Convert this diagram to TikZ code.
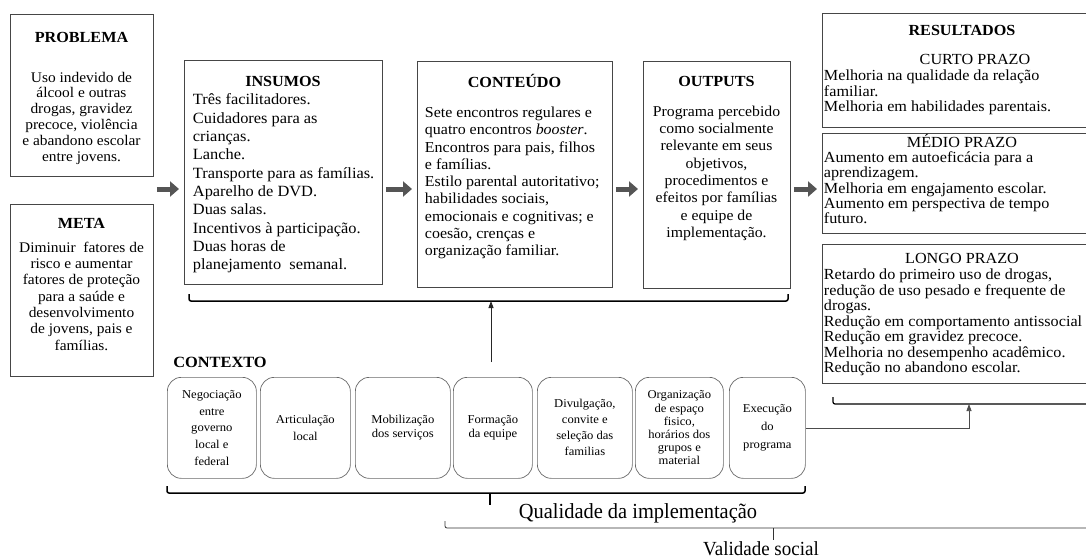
\documentclass[tikz,border=0pt]{standalone}
\usepackage{fontspec}
\setmainfont{Liberation Serif}[FakeStretch=1.05]
\newfontfamily\labelfont{Liberation Serif}[FakeStretch=0.95]
\usetikzlibrary{arrows.meta}

\definecolor{boxgray}{RGB}{70,70,70}
\definecolor{ctxgray}{RGB}{105,105,105}
\definecolor{arrowgray}{RGB}{85,85,85}

\begin{document}
\begin{tikzpicture}[x=1pt,y=1pt,yscale=-1,xscale=1,
  box/.style={draw=boxgray, line width=0.8pt, anchor=north west, inner sep=0pt},
  ctxbox/.style={draw=ctxgray, line width=0.7pt, rounded corners=14pt, anchor=north west, inner sep=0pt, align=center},
  title/.style={font=\bfseries\fontsize{15.4}{17}\selectfont, inner sep=0.75pt, anchor=base},
  prazo/.style={font=\fontsize{15.4}{17}\selectfont, inner sep=0.75pt, anchor=base},
  body/.style={inner sep=0.75pt, anchor=north},
  fatarrow/.style={draw=arrowgray, line width=5pt, -{Triangle[length=9pt,width=15pt]}, shorten <=3pt, shorten >=5pt},
  bracket/.style={line width=1.5pt, rounded corners=2pt},
  thinarrow/.style={draw=black!85, line width=0.9pt, -{Triangle[length=7pt,width=5pt]}}
]
\path[use as bounding box, fill=white] (0,0) rectangle (1086,559);

%Shape: Rectangle [PROBLEMA]
\node[box, minimum width=143, minimum height=162] (problema) at (10,14) {};
%Shape: Rectangle [META]
\node[box, minimum width=143, minimum height=172] (meta) at (10,204) {};
%Shape: Rectangle [INSUMOS]
\node[box, minimum width=198, minimum height=224] (insumos) at (184,60) {};
%Shape: Rectangle [CONTEUDO]
\node[box, minimum width=195, minimum height=226] (conteudo) at (417,61) {};
%Shape: Rectangle [OUTPUTS]
\node[box, minimum width=147, minimum height=227] (outputs) at (643,61) {};
%Shape: Rectangle [CURTO PRAZO]
\node[box, minimum width=275, minimum height=114] (curto) at (822,13) {};
%Shape: Rectangle [MEDIO PRAZO]
\node[box, minimum width=275, minimum height=100] (medio) at (822,133) {};
%Shape: Rectangle [LONGO PRAZO]
\node[box, minimum width=275, minimum height=139] (longo) at (822,244) {};

% Text Node
\node[title] (problematitle) at (81.5,43) {PROBLEMA};
% Text Node
\node[body, align=center, font=\fontsize{14.7}{15.8}\selectfont] (problematext) at (81.5,71) {Uso indevido de\\álcool e outras\\drogas, gravidez\\precoce, violência\\e abandono escolar\\entre jovens.};
% Text Node
\node[title] (metatitle) at (81.5,228) {META};
% Text Node
\node[body, align=center, font=\fontsize{14.7}{16.3}\selectfont] (metatext) at (81.5,241) {Diminuir\ \ fatores de\\risco e aumentar\\fatores de proteção\\para a saúde e\\desenvolvimento\\de jovens, pais e\\famílias.};
% Text Node
\node[title] (insumostitle) at (283,87) {INSUMOS};
% Text Node
\node[body, anchor=north west, align=left, font=\fontsize{15.6}{18.3}\selectfont] (insumostext) at (192,93) {Três facilitadores.\\Cuidadores para as\\crianças.\\Lanche.\\Transporte para as famílias.\\Aparelho de DVD.\\Duas salas.\\Incentivos à participação.\\Duas horas de\\planejamento\ \ semanal.};
% Text Node
\node[title] (conteudotitle) at (514.5,88) {CONTEÚDO};
% Text Node
\node[body, anchor=north west, align=left, font=\fontsize{15.2}{17.3}\selectfont] (conteudotext) at (424,106) {Sete encontros regulares\ e\\quatro encontros \textit{booster}.\\Encontros para pais, filhos\\e famílias.\\Estilo parental autoritativo;\\habilidades\ sociais,\\emocionais e cognitivas; e\\coesão, crenças e\\organização\ familiar.};
% Text Node
\node[title] (outputstitle) at (716.5,87) {OUTPUTS};
% Text Node
\node[body, align=center, font=\fontsize{15}{17.3}\selectfont] (outputstext) at (716.5,105) {Programa percebido\\como socialmente\\relevante\ em seus\\objetivos,\\procedimentos e\\efeitos por famílias\\e equipe de\\implementação.};
% Text Node
\node[title] (resultadostitle) at (962,36) {RESULTADOS};
% Text Node
\node[prazo] (curtotitle) at (975,65) {CURTO PRAZO};
% Text Node
\node[body, anchor=north west, align=left, font=\fontsize{15.4}{15.4}\selectfont] (curtotext) at (823,69) {Melhoria\ na qualidade\ da relação\\familiar.\\Melhoria\ em habilidades\ parentais.};
% Text Node
\node[prazo] (mediotitle) at (962,147) {MÉDIO PRAZO};
% Text Node
\node[body, anchor=north west, align=left, font=\fontsize{15.4}{15.2}\selectfont] (mediotext) at (823,151) {Aumento\ em autoeficácia\ para a\\aprendizagem.\\Melhoria\ em engajamento\ escolar.\\Aumento\ em perspectiva de tempo\\futuro.};
% Text Node
\node[prazo] (longotitle) at (962,263) {LONGO PRAZO};
% Text Node
\node[body, anchor=north west, align=left, font=\fontsize{15.4}{15.5}\selectfont] (longotext) at (823,268) {Retardo do primeiro\ uso de drogas,\\redução de uso pesado e frequente\ de\\drogas.\\Redução em\ comportamento antissocial\\Redução em\ gravidez\ precoce.\\Melhoria\ no desempenho acadêmico.\\Redução no abandono escolar.};

% Text Node
\node[title, font=\bfseries\fontsize{15.6}{17}\selectfont] (contexto) at (220,367) {CONTEXTO};

%Flowchart: Alternative Process [contexto]
\node[ctxbox, minimum width=89, minimum height=101, font=\fontsize{12}{16.7}\selectfont] (negociacao) at (167,377) {Negociação\\entre\\governo\\local e\\federal};
\node[ctxbox, minimum width=90, minimum height=101, font=\fontsize{12}{17}\selectfont] (articulacao) at (260,377) {Articulação\\local};
\node[ctxbox, minimum width=95, minimum height=101, font=\fontsize{12}{14}\selectfont] (mobilizacao) at (355,377) {Mobilização\\dos serviços};
\node[ctxbox, minimum width=79, minimum height=101, font=\fontsize{12}{14}\selectfont] (formacao) at (453,377) {Formação\\da equipe};
\node[ctxbox, minimum width=95, minimum height=101, font=\fontsize{12}{16}\selectfont] (divulgacao) at (537,377) {Divulgação,\\convite e\\seleção das\\familias};
\node[ctxbox, minimum width=88, minimum height=101, font=\fontsize{12}{13.2}\selectfont] (organizacao) at (635,377) {Organização\\de espaço\\fisico,\\horários dos\\grupos e\\material};
\node[ctxbox, minimum width=76, minimum height=101, font=\fontsize{12}{18}\selectfont] (execucao) at (729,377) {Execução\\do\\programa};

%Right Arrow [between columns]
\coordinate (arrowrow) at (0,189);
\draw[fatarrow] (problema.east |- arrowrow) -- (insumos.west |- arrowrow);
\draw[fatarrow] (insumos.east |- arrowrow) -- (conteudo.west |- arrowrow);
\draw[fatarrow] (conteudo.east |- arrowrow) -- (outputs.west |- arrowrow);
\draw[fatarrow] (outputs.east |- arrowrow) -- (medio.west |- arrowrow);

%Brace [insumos to outputs]
\draw[bracket] (189,294) |- (788,301) -- (788,294);
\coordinate (topbrace) at (491,301);
\coordinate (contextfoot) at (491,362);
\draw[thinarrow] (contextfoot) -- (topbrace);

%Brace [resultados]
\draw[bracket, line width=1.2pt] (833,397) |- (1105,404) -- (1105,397);
\coordinate (resbrace) at (969,404);
\draw[thinarrow, draw=black!70, line width=0.7pt] (execucao.east) -| (resbrace);

%Brace [qualidade da implementacao]
\draw[bracket] (167,486) |- (805,493) -- (805,486);
\draw[line width=1.5pt] (490,493) -- (490,505);
% Text Node
\node[inner sep=0.75pt, anchor=base, font=\labelfont\fontsize{21.5}{24}\selectfont] (qualidade) at (638,518) {Qualidade da implementação};

%Brace [validade social]
\draw[bracket, line width=0.8pt, draw=black!80] (445,521) |- (1101,528);
\draw[line width=0.8pt, draw=black!80] (773,528) -- (773,540);
% Text Node
\node[inner sep=0.75pt, anchor=base, font=\labelfont\fontsize{20}{24}\selectfont] (validade) at (761,555) {Validade social};

\end{tikzpicture}
\end{document}
